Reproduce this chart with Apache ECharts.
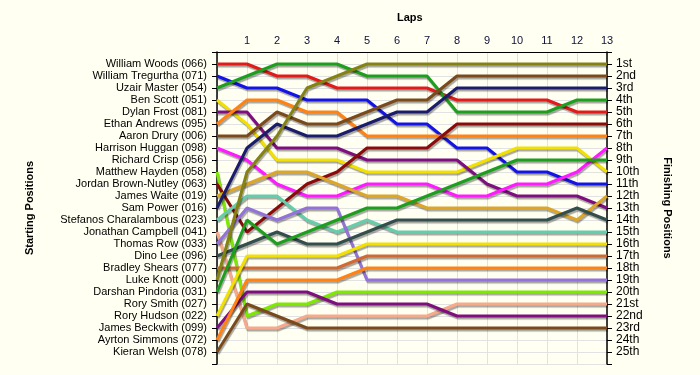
<!DOCTYPE html>
<html><head><meta charset="utf-8">
<script src="https://cdn.jsdelivr.net/npm/echarts@6/dist/echarts.min.js"></script>
<style>html,body{margin:0;padding:0;background:#fffff2;}#c{width:700px;height:375px;}</style>
</head><body><div id="c"></div>
<script>
const laps = [0,1,2,3,4,5,6,7,8,9,10,11,12,13];
const startNames = ["William Woods (066)","William Tregurtha (071)","Uzair Master (054)","Ben Scott (051)","Dylan Frost (081)","Ethan Andrews (095)","Aaron Drury (006)","Harrison Huggan (098)","Richard Crisp (056)","Matthew Hayden (058)","Jordan Brown-Nutley (063)","James Waite (019)","Sam Power (016)","Stefanos Charalambous (023)","Jonathan Campbell (041)","Thomas Row (033)","Dino Lee (096)","Bradley Shears (077)","Luke Knott (000)","Darshan Pindoria (031)","Rory Smith (027)","Rory Hudson (022)","James Beckwith (099)","Ayrton Simmons (072)","Kieran Welsh (078)"];
const finishLabels = ["1st","2nd","3rd","4th","5th","6th","7th","8th","9th","10th","11th","12th","13th","14th","15th","16th","17th","18th","19th","20th","21st","22nd","23rd","24th","25th"];

// positions per lap (lap 0 .. lap 13)
const posWoods        = [1,1,2,2,3,3,3,3,4,4,4,4,5,5];
const posTregurtha    = [2,3,3,4,4,4,6,6,8,8,10,10,11,11];
const posMaster       = [3,2,1,1,1,2,2,2,5,5,5,5,4,4];
const posScott        = [4,6,9,9,9,10,10,10,10,9,8,8,8,10];
const posFrost        = [5,5,8,8,8,9,9,9,9,11,12,12,12,13];
const posAndrews      = [6,4,4,5,5,7,7,7,7,7,7,7,7,7];
const posDrury        = [7,7,5,6,6,5,4,4,2,2,2,2,2,2];
const posHuggan       = [8,9,11,12,12,11,11,11,12,12,11,11,10,8];
const posHayden       = [10,22,21,21,20,20,20,20,20,20,20,20,20,20];
const posBrownNutley  = [11,15,13,11,10,8,8,8,6,6,6,6,6,6];
const posWaite        = [12,11,10,10,11,12,12,13,13,13,13,13,14,12];
const posPower        = [13,8,6,7,7,6,5,5,3,3,3,3,3,3];
const posCharalambous = [14,12,12,14,15,14,15,15,15,15,15,15,15,15];
const posCampbell     = [15,23,23,22,22,22,22,22,21,21,21,21,21,21];
const posRow          = [16,13,14,13,13,19,19,19,19,19,19,19,19,19];
const posLee          = [17,16,15,16,16,15,14,14,14,14,14,14,13,14];
const posShears       = [18,18,18,18,18,17,17,17,17,17,17,17,17,17];
const posKnott        = [19,10,7,3,2,1,1,1,1,1,1,1,1,1];
const posPindoria     = [20,14,16,15,14,13,13,12,11,10,9,9,9,9];
const posHudson       = [22,17,17,17,17,16,16,16,16,16,16,16,16,16];
const posBeckwith     = [23,20,20,20,21,21,21,21,22,22,22,22,22,22];
const posSimmons      = [24,19,19,19,19,18,18,18,18,18,18,18,18,18];
const posWelsh        = [25,21,22,23,23,23,23,23,23,23,23,23,23,23];

const driverSeries = [
  ["William Woods", posWoods], ["William Tregurtha", posTregurtha], ["Uzair Master", posMaster],
  ["Ben Scott", posScott], ["Dylan Frost", posFrost], ["Ethan Andrews", posAndrews],
  ["Aaron Drury", posDrury], ["Harrison Huggan", posHuggan], ["Matthew Hayden", posHayden],
  ["Jordan Brown-Nutley", posBrownNutley], ["James Waite", posWaite], ["Sam Power", posPower],
  ["Stefanos Charalambous", posCharalambous], ["Jonathan Campbell", posCampbell], ["Thomas Row", posRow],
  ["Dino Lee", posLee], ["Bradley Shears", posShears], ["Luke Knott", posKnott],
  ["Darshan Pindoria", posPindoria], ["Rory Hudson", posHudson], ["James Beckwith", posBeckwith],
  ["Ayrton Simmons", posSimmons], ["Kieran Welsh", posWelsh]
];
const lineColors = ["#e31a1a","#1414e6","#1e9e1e","#f2e000","#7f0f7f","#ff8214","#7a4a1c","#ff1aff","#7ee800",
  "#8b0a0a","#dca62a","#1c1c6c","#66ccaa","#f7a98c","#9373d8","#344e4e","#cf6a34","#858214",
  "#1e9e1e","#f2e000","#7f0f7f","#ff8214","#7a4a1c"];

const chart = echarts.init(document.getElementById('c'), null, {renderer:'canvas'});
const font = "'Liberation Sans', Arial, sans-serif";
const series = driverSeries.map((d, i) => ({
  name: d[0], type: 'line', xAxisIndex: 0, yAxisIndex: 0,
  data: laps.map((l, k) => [l, d[1][k]]),
  symbol: 'none', silent: true,
  lineStyle: { color: lineColors[i], width: 3, shadowColor: 'rgba(0,0,0,0.35)', shadowBlur: 1, shadowOffsetX: 1, shadowOffsetY: 2 },
  z: 3
}));

chart.setOption({
  animation: false,
  backgroundColor: '#fffff2',
  grid: { left: 217, right: 93, top: 52, bottom: 11, containLabel: false },
  xAxis: {
    type: 'value', position: 'top', min: 0, max: 13, interval: 1,
    axisLine: { show: true, lineStyle: { color: '#000', width: 1 } },
    axisTick: { show: false },
    axisLabel: { fontFamily: font, fontSize: 11, color: '#10103a', margin: 6, formatter: v => v === 0 ? '' : String(v) },
    splitLine: { show: true, lineStyle: { color: '#e2e2e2', width: 1 } }
  },
  yAxis: [{
    type: 'value', inverse: true, min: 0, max: 26, interval: 1, position: 'left',
    axisLine: { show: true, lineStyle: { color: '#000', width: 1.5 } },
    axisTick: { show: true, length: 5, lineStyle: { color: '#000' } },
    axisLabel: { fontFamily: font, fontSize: 11, color: '#000', margin: 10,
      formatter: v => (v >= 1 && v <= 25) ? startNames[v - 1] : '' },
    splitLine: { show: true, lineStyle: { color: '#e2e2e2', width: 1 } }
  }, {
    type: 'value', inverse: true, min: 0, max: 26, interval: 1, position: 'right',
    axisLine: { show: true, onZero: false, lineStyle: { color: '#000', width: 1.5 } },
    axisTick: { show: true, length: 5, lineStyle: { color: '#000' } },
    axisLabel: { fontFamily: font, fontSize: 12, color: '#000', margin: 9,
      formatter: v => (v >= 1 && v <= 25) ? finishLabels[v - 1] : '' },
    splitLine: { show: false }
  }],
  graphic: [
    { type: 'text', left: 397, top: 12, style: { text: 'Laps', font: "bold 11px " + font, fill: '#000' } },
    { type: 'text', x: 30, y: 208, rotation: Math.PI / 2, style: { text: 'Starting Positions', font: "bold 11px " + font, fill: '#000', align: 'center', verticalAlign: 'middle' } },
    { type: 'text', x: 667, y: 208, rotation: -Math.PI / 2, style: { text: 'Finishing Positions', font: "bold 11px " + font, fill: '#000', align: 'center', verticalAlign: 'middle' } }
  ],
  series: series
});
</script></body></html>
